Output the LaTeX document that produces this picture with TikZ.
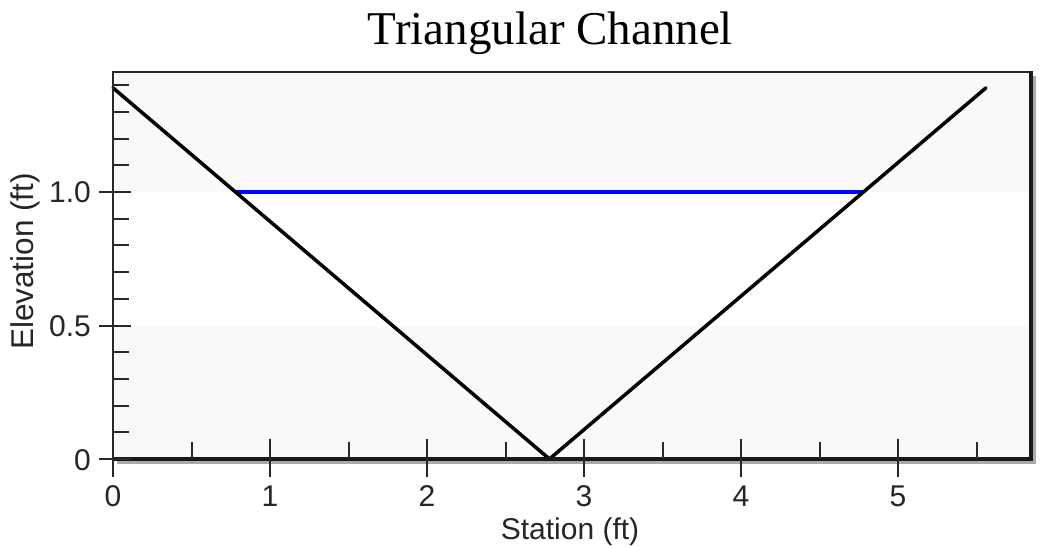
\documentclass[tikz,border=0pt]{standalone}
\usepackage{fontspec}
\setmainfont{Liberation Serif}
\newfontfamily\arialf{Liberation Sans}
\definecolor{bandgray}{RGB}{249,249,249}
\definecolor{framedark}{RGB}{40,40,40}
\definecolor{shadowgray}{RGB}{170,170,170}
\definecolor{waterblue}{RGB}{0,0,255}
\begin{document}
\begin{tikzpicture}[x=1pt,y=-1pt,
  tickline/.style={draw=framedark,line width=2},
  ticklabel/.style={font=\arialf\fontsize{30}{36}\selectfont, inner sep=0pt, text=black!85},
  axislabel/.style={font=\arialf\fontsize{30}{36}\selectfont, inner sep=0pt, text=black!85},
  titlelabel/.style={font=\fontsize{47}{56}\selectfont, inner sep=0pt, text=black},
  channelline/.style={draw=black, line width=3.5, line cap=round, line join=round},
  waterline/.style={draw=waterblue, line width=3.5},
]
\useasboundingbox (0,0) rectangle (1049,548);
\fill[white] (0,0) rectangle (1049,548);
% shadow of frame
\draw[shadowgray, line width=3] (117,462.5) -- (1034.5,462.5) -- (1034.5,76);
% data scope
\begin{scope}[shift={(113,459)}, x=157pt, y=267pt]
  \fill[bandgray] (0,1) rectangle (5.847,1.449);
  \fill[bandgray] (0,0) rectangle (5.847,0.5);
  \coordinate (L) at (0,1.39);
  \coordinate (B) at (2.78,0);
  \coordinate (R) at (5.56,1.39);
  \coordinate (WL) at (0.78,1);
  \coordinate (WR) at (4.78,1);
  \draw[waterline] (WL) -- (WR);
  \draw[channelline] (L) -- (B) -- (R);
\end{scope}
% frame
\draw[framedark, line width=2.5] (113,459) -- (113,72) -- (1031,72);
\draw[black!90, line width=3.2] (112,459) -- (1031,459) -- (1031,71);
% x ticks
\foreach \i in {0,...,5} {
  \draw[tickline] ({113+157*\i},439) -- ({113+157*\i},477);
  \node[ticklabel, anchor=base] (xl\i) at ({113+157*\i},506) {\i};
}
\foreach \i in {0,...,5} {
  \draw[tickline] ({113+157*(\i+0.5)},442) -- ({113+157*(\i+0.5)},459);
}
% y ticks
\foreach \k in {1,2,3,4,6,7,8,9,11,12,13,14} {
  \draw[tickline] (113,{459-26.7*\k}) -- (129,{459-26.7*\k});
}
\foreach \k/\lab/\nm in {0/0/ya,5/0.5/yb,10/1.0/yc} {
  \draw[tickline] (99,{459-26.7*\k}) -- (131,{459-26.7*\k});
  \node[ticklabel, anchor=base east] (\nm) at (91,{459-26.7*\k+11}) {\lab};
}
% labels
\node[axislabel, anchor=base] (xlabel) at (570,539) {Station (ft)};
\node[axislabel, anchor=base, rotate=90, font=\arialf\fontsize{31.5}{36}\selectfont] (ylabel) at (33,261.5) {Elevation (ft)};
\node[titlelabel, anchor=base] (title) at (550.5,45) {Triangular Channel};
\end{tikzpicture}
\end{document}
